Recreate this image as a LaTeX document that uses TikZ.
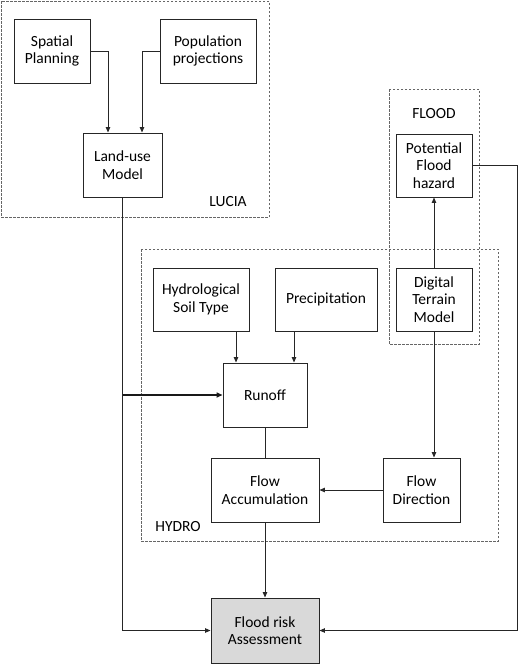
\documentclass[tikz,border=0pt]{standalone}
\usepackage{fontspec}
\setmainfont{Carlito}
\usetikzlibrary{arrows.meta}
\begin{document}
\begin{tikzpicture}[x=1pt,y=-1pt,
  box/.style={draw=black!85,line width=0.95pt,fill=white,align=center,inner sep=0pt,
    font=\fontsize{15.5}{17.5}\selectfont,text=black},
  grp/.style={draw=black!60,line width=0.8pt,dash pattern=on 2.5pt off 1.5pt},
  lbl/.style={font=\fontsize{15.5}{17.5}\selectfont,text=black},
  arr/.style={draw=black!85,line width=0.95pt,-{Triangle[length=5.5pt,width=4.5pt]}},
  ln/.style={draw=black!85,line width=0.95pt},
  thickarr/.style={draw=black!90,line width=1.7pt,-{Triangle[length=6pt,width=5pt]}}]
\useasboundingbox (0,0) rectangle (520,667);
% group boxes
\draw[grp] (1,1) rectangle (269,217);
\draw[grp] (141,249) rectangle (498,541);
\draw[grp] (389,89) rectangle (479,344);
\node[lbl] (lucia) at (228,202) {LUCIA};
\node[lbl] (flood) at (434,114) {FLOOD};
\node[lbl] (hydro) at (178,527) {HYDRO};
% nodes
\node[box,minimum width=76pt,minimum height=64pt] (sp) at (52,51) {Spatial\\Planning};
\node[box,minimum width=96pt,minimum height=64pt] (pp) at (208,51) {Population\\projections};
\node[box,minimum width=79pt,minimum height=64pt] (lu) at (122.5,165) {Land-use\\Model};
\node[box,minimum width=76pt,minimum height=63pt] (pfh) at (434,165.5) {Potential\\Flood\\hazard};
\node[box,minimum width=96pt,minimum height=63pt] (hst) at (201,299.5) {Hydrological\\Soil Type};
\node[box,minimum width=102pt,minimum height=63pt] (prec) at (326,299.5) {Precipitation};
\node[box,minimum width=76pt,minimum height=63pt] (dtm) at (434,299.5) {Digital\\Terrain\\Model};
\node[box,minimum width=84pt,minimum height=64pt] (ro) at (265,395) {Runoff};
\node[box,minimum width=108pt,minimum height=64pt] (fa) at (265,490) {Flow\\Accumulation};
\node[box,minimum width=77pt,minimum height=64pt] (fd) at (421.5,490) {Flow\\Direction};
\node[box,minimum width=108pt,minimum height=65pt,fill=black!15] (fra) at (265,630.5) {Flood risk\\Assessment};
\coordinate (rc) at (517,0);
% connectors
\draw[arr] (sp.east) -| ([xshift=-14.5pt]lu.north);
\draw[arr] (pp.west) -| ([xshift=19.5pt]lu.north);
\draw[arr] (lu.south) |- (fra.west);
\draw[thickarr] (lu.south |- ro.west) -- (ro.west);
\draw[arr] ([xshift=35pt]hst.south) -- ([xshift=35pt]hst.south |- ro.north);
\draw[arr] ([xshift=-32pt]prec.south) -- ([xshift=-32pt]prec.south |- ro.north);
\draw[arr] (dtm.north) -- (pfh.south);
\draw[arr] (dtm.south) -- (fd.north -| dtm.south);
\draw[arr] (fd.west) -- (fa.east);
\draw[ln] (ro.south) -- (fa.north);
\draw[arr] (fa.south) -- (fra.north);
\draw[arr] (pfh.east) -| (rc |- fra.east) -- (fra.east);
\end{tikzpicture}
\end{document}
